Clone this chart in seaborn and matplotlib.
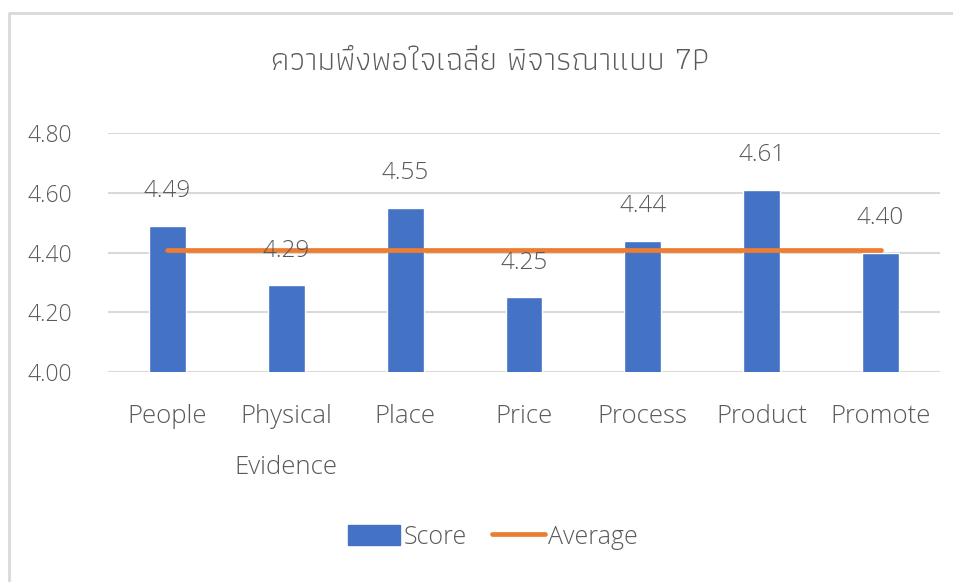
import matplotlib
matplotlib.use("Agg")
import matplotlib.pyplot as plt
import seaborn as sns
from matplotlib import font_manager
from matplotlib.ft2font import FT2Font
from matplotlib.patches import Rectangle
from matplotlib.lines import Line2D

# chart data
categories = ["People", "Physical\nEvidence", "Place", "Price", "Process", "Product", "Promote"]
scores = [4.49, 4.29, 4.55, 4.25, 4.44, 4.61, 4.40]
average = 4.41
title = "ความพึงพอใจเฉลี่ย พิจารณาแบบ 7P"

BAR = "#4472C4"
LINE = "#ED7D31"
TEXT = "#595959"
GRID = "#D9D9D9"


def thai_font(target=300):
    """Installed face with Thai glyphs whose weight is nearest target: (family, weight)."""
    found = []
    for f in font_manager.fontManager.ttflist:
        try:
            if 0x0E04 in FT2Font(f.fname).get_charmap():
                w = f.weight if isinstance(f.weight, int) else 400
                found.append((abs(w - target), w, f.name))
        except Exception:
            pass
    if not found:
        return "DejaVu Sans", 400
    _, w, name = min(found)
    return name, w


THAI, THAI_W = thai_font()

sns.set_theme(style="white")
# Latin text in Open Sans, Thai falls through to a Thai-capable family
plt.rcParams["font.family"] = ["Open Sans", THAI, "DejaVu Sans"]
plt.rcParams["font.weight"] = "light"

fig = plt.figure(figsize=(9.54, 5.82), dpi=100)
ax = fig.add_axes([108 / 954, 1 - 372 / 582, 832 / 954, 239 / 582])

sns.barplot(x=categories, y=scores, color=BAR, width=0.31, saturation=1, ax=ax)
ax.plot(range(len(categories)), [average] * len(categories), color=LINE,
        lw=3.4, solid_capstyle="round", zorder=3)

for i, v in enumerate(scores):
    ax.annotate(f"{v:.2f}", (i, v), xytext=(0, 25), textcoords="offset points",
                ha="center", va="center", fontsize=17.5, color=TEXT)

ax.set_xlim(-0.5, len(categories) - 0.5)
ax.set_ylim(4.0, 4.8)
ax.set_yticks([4.0, 4.2, 4.4, 4.6, 4.8])
ax.set_yticklabels([f"{t:.2f}" for t in ax.get_yticks()])
ax.yaxis.grid(True, color=GRID, lw=1.5)
ax.set_axisbelow(True)
for s in ax.spines.values():
    s.set_visible(False)
ax.tick_params(axis="both", length=0, colors=TEXT)
ax.tick_params(axis="x", pad=23, labelsize=18.5)
ax.tick_params(axis="y", pad=58, labelsize=16.5)
for lab in ax.get_xticklabels():
    lab.set_linespacing(2.35)
for lab in ax.get_yticklabels():
    lab.set_horizontalalignment("left")
ax.set_xlabel("")
ax.set_ylabel("")

fig.text(490 / 954, 1 - 62 / 582, title, ha="center", va="center",
         fontsize=23.4, fontweight=THAI_W, color=TEXT,
         family=[THAI, "Open Sans", "DejaVu Sans"])

handles = [Rectangle((0, 0), 1, 1, color=BAR),
           Line2D([0], [0], color=LINE, lw=3.4, solid_capstyle="round")]
fig.legend(handles, ["Score", "Average"], loc="center", ncol=2,
           bbox_to_anchor=(493 / 954, 1 - 537 / 582), frameon=False, fontsize=18,
           labelcolor=TEXT, handlelength=2.1, handleheight=0.9,
           handletextpad=0.15, columnspacing=1.0)

# chart-area border: only the left and top edges fall inside the picture
bx, by = 9 / 954, 1 - 13 / 582
fig.add_artist(Line2D([bx, bx, 1], [0, by, by], transform=fig.transFigure,
                      color=GRID, lw=2))

fig.savefig("out.png", dpi=100)
